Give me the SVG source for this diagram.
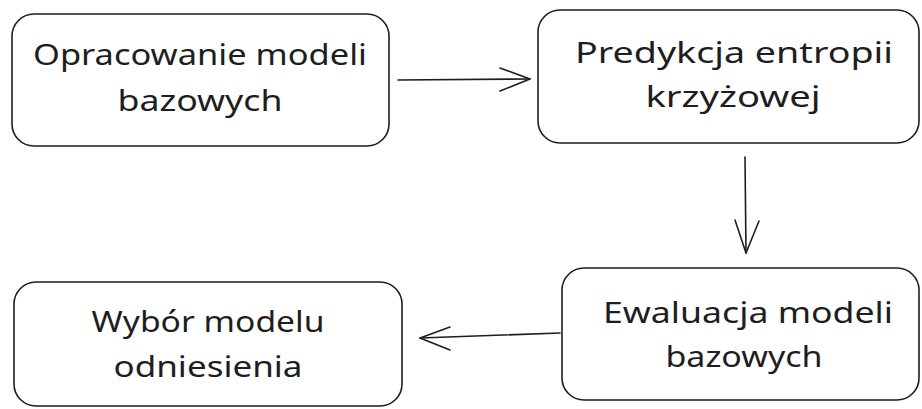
<svg xmlns="http://www.w3.org/2000/svg" width="922" height="409" viewBox="0 0 922 409">
<style>
.box{fill:#ffffff;stroke:#1e1e1e;stroke-width:1.6;}
.lbl{font-family:"Noto Sans","DejaVu Sans",sans-serif;font-size:29px;fill:#1e1e1e;text-anchor:middle;}
.conn{fill:none;stroke:#1e1e1e;stroke-width:1.6;stroke-linecap:round;stroke-linejoin:round;}
</style>
<rect width="922" height="409" fill="#ffffff"/>
<g id="node-opracowanie">
<rect class="box" x="12" y="14" width="377" height="132" rx="22"/>
<text class="lbl" x="200" y="65" textLength="334" lengthAdjust="spacingAndGlyphs">Opracowanie modeli</text>
<text class="lbl" x="200" y="111" textLength="165" lengthAdjust="spacingAndGlyphs">bazowych</text>
</g>
<g id="node-predykcja">
<rect class="box" x="538" y="10" width="381" height="133" rx="22"/>
<text class="lbl" x="734" y="63" textLength="318" lengthAdjust="spacingAndGlyphs">Predykcja entropii</text>
<text class="lbl" x="733" y="107" textLength="175" lengthAdjust="spacingAndGlyphs">krzyżowej</text>
</g>
<g id="node-ewaluacja">
<rect class="box" x="562" y="268" width="357" height="132" rx="22"/>
<text class="lbl" x="748" y="323" textLength="290" lengthAdjust="spacingAndGlyphs">Ewaluacja modeli</text>
<text class="lbl" x="744" y="367" textLength="157" lengthAdjust="spacingAndGlyphs">bazowych</text>
</g>
<g id="node-wybor">
<rect class="box" x="14" y="282" width="388" height="124" rx="22"/>
<text class="lbl" x="208" y="332" textLength="233" lengthAdjust="spacingAndGlyphs">Wybór modelu</text>
<text class="lbl" x="208" y="377" textLength="189" lengthAdjust="spacingAndGlyphs">odniesienia</text>
</g>
<g id="connectors">
<path class="conn" d="M398 80 L530 79"/>
<path class="conn" d="M500 68 L530 79 L500 91"/>
<path class="conn" d="M745 157 L746 253"/>
<path class="conn" d="M735 220 L746 253 L759 221"/>
<path class="conn" d="M560 333 L420 338"/>
<path class="conn" d="M450 327 L420 338 L450 350"/>
</g>
</svg>
